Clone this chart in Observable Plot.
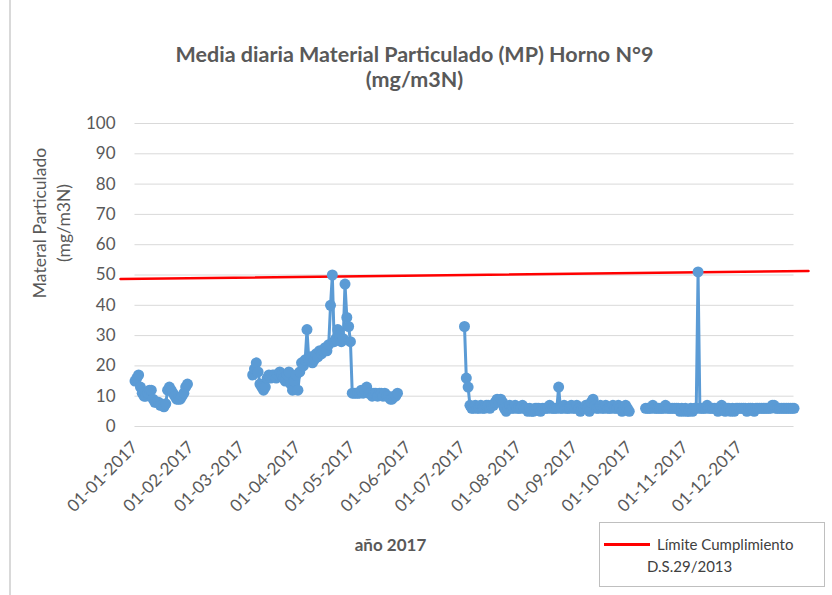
<!DOCTYPE html>
<html>
<head>
<meta charset="utf-8">
<script src="https://cdn.jsdelivr.net/npm/d3@7"></script>
<script src="https://cdn.jsdelivr.net/npm/@observablehq/plot@0.6"></script>
<style>
  html, body { margin: 0; padding: 0; background: #fff; }
  #wrap { position: relative; width: 832px; height: 595px; overflow: hidden; font-family: Lato, "Open Sans", sans-serif; }
  #chart { position: absolute; left: 0; top: 0; }
  #title { position: absolute; left: 0; top: 42px; width: 829px; text-align: center; font-weight: bold; font-size: 21.5px; line-height: 25px; color: #595959; }
  #border { position: absolute; left: 9px; top: 0; height: 595px; border-left: 2px solid #d9d9d9; }
  #legend { position: absolute; left: 599px; top: 522px; width: 226px; height: 65px; border: 1.5px solid #bfbfbf; box-sizing: border-box; background: #fff; color: #404040; font-size: 15px; }
  #legend .sw { position: absolute; left: 4px; top: 20px; width: 46px; height: 3px; background: #ff0000; }
  #legend .t1 { position: absolute; left: 57px; top: 11px; line-height: 20px; }
  #legend .t2 { position: absolute; left: 47px; top: 33px; line-height: 20px; }
</style>
</head>
<body>
<div id="wrap">
  <div id="chart"></div>
  <div id="border"></div>
  <div id="title">Media diaria Material Particulado (MP) Horno N°9<br>(mg/m3N)</div>
  <div id="legend"><div class="sw"></div><div class="t1">Límite Cumplimiento</div><div class="t2">D.S.29/2013</div></div>
</div>
<script>
// Daily values (mg/m3N), one per day starting at each segment's start date
const seg1Start = "2017-01-01";
const seg1 = [15,16,17,13,11,10,10,11,12,12,9,8,8,8,7,7,6.5,7.5,12,13,12,11,10,9,9,9,10,11,13,14];

const seg2Start = "2017-03-07";
const seg2 = [17,19,21,18,14,13,12,13,16,17,16,17,17,16,17,18,17,16,15,17,18,14,12,15,17,12,18,21,20,22,
              32,22,23,21,22,24,23,25,24,25,26,25,27,40,50,28,29,32,30,28,29,47,36,33,28,11,
              11,11,11,11,12,11,12,13,11,11,10,11,11,10,11,11,10,11,10,10,9,9,10,10,11];

const seg3Start = "2017-07-02";
const seg3 = [33,16,13,7,6,6,7,6,6,7,6,6,7,7,6,7,7,8,9,8,9,8,6,5,6,7,6,6,7,6,
              6,6,7,6,6,5,6,5,5,6,6,6,5,6,6,6,6,7,6,6,6,6,13,6,6,7,6,6,6,7,
              6,6,7,6,5,6,6,7,6,5,8,9,7,6,6,7,6,6,7,6,6,6,7,6,6,7,6,5,6,7,
              6,5];

const seg4Start = "2017-10-10";
const seg4 = [6,6,6,6,7,6,6,6,6,6,6,7,6,6,6,6,6,6,6,5,6,5,6,5,5,6,5,6,6,51,
              6,6,6,6,7,6,6,6,6,6,5,6,7,6,5,6,6,5,6,5,6,6,6,6,6,6,5,6,6,6,
              5,6,6,6,6,6,6,6,6,6,7,7,6,6,6,6,6,6,6,6,6,6,6];

// Compliance limit line (D.S.29/2013), as drawn in the original
const limitDates = ["2016-12-24", "2018-01-08"];
const limitValues = [48.7, 51.3];

const yTicks = [0,10,20,30,40,50,60,70,80,90,100];
const xTickDates = ["2017-01-01","2017-02-01","2017-03-01","2017-04-01","2017-05-01","2017-06-01",
                    "2017-07-01","2017-08-01","2017-09-01","2017-10-01","2017-11-01","2017-12-01"];

const parse = d3.utcParse("%Y-%m-%d");
const segments = [[seg1Start, seg1], [seg2Start, seg2], [seg3Start, seg3], [seg4Start, seg4]];
const rows = segments.flatMap(([start, vals], s) =>
  vals.map((v, i) => ({seg: s, date: d3.utcDay.offset(parse(start), i), value: v})));
const limit = limitDates.map((d, i) => ({date: parse(d), value: limitValues[i]}));
const gridStart = parse("2017-01-01"), gridEnd = parse("2017-12-31");

const chart = Plot.plot({
  width: 832,
  height: 595,
  marginLeft: 120,
  marginRight: 24,
  marginTop: 123,
  marginBottom: 169,
  x: {type: "utc", domain: [parse(limitDates[0]), parse(limitDates[1])]},
  y: {domain: [0, 100]},
  style: {fontFamily: "Lato, 'Open Sans', sans-serif", color: "#595959", background: "transparent", overflow: "visible"},
  marks: [
    Plot.ruleY(yTicks, {x1: () => gridStart, x2: () => gridEnd, stroke: "#d9d9d9", strokeWidth: 1}),
    Plot.axisY(yTicks, {tickSize: 0, tickPadding: 5, fontSize: 17, label: null}),
    Plot.axisX(xTickDates.map(parse), {tickSize: 0, tickPadding: 18, tickRotate: -45,
      tickFormat: d3.utcFormat("%d-%m-%Y"), fontSize: 17, label: null}),
    Plot.line(limit, {x: "date", y: "value", stroke: "#ff0000", strokeWidth: 2.5}),
    Plot.line(rows, {x: "date", y: "value", z: "seg", stroke: "#5b9bd5", strokeWidth: 3}),
    Plot.dot(rows, {x: "date", y: "value", r: 5.5, fill: "#5b9bd5"}),
    Plot.text(["Materal Particulado\n(mg/m3N)"], {frameAnchor: "left", textAnchor: "middle", rotate: -90,
      dx: -70, dy: -52, fontSize: 17.5, lineHeight: 1.35, fill: "#595959"}),
    Plot.text(["año 2017"], {frameAnchor: "bottom", dx: -74, dy: 124, fontSize: 17, fontWeight: "bold", fill: "#595959"})
  ]
});
document.getElementById("chart").appendChild(chart);
</script>
</body>
</html>
